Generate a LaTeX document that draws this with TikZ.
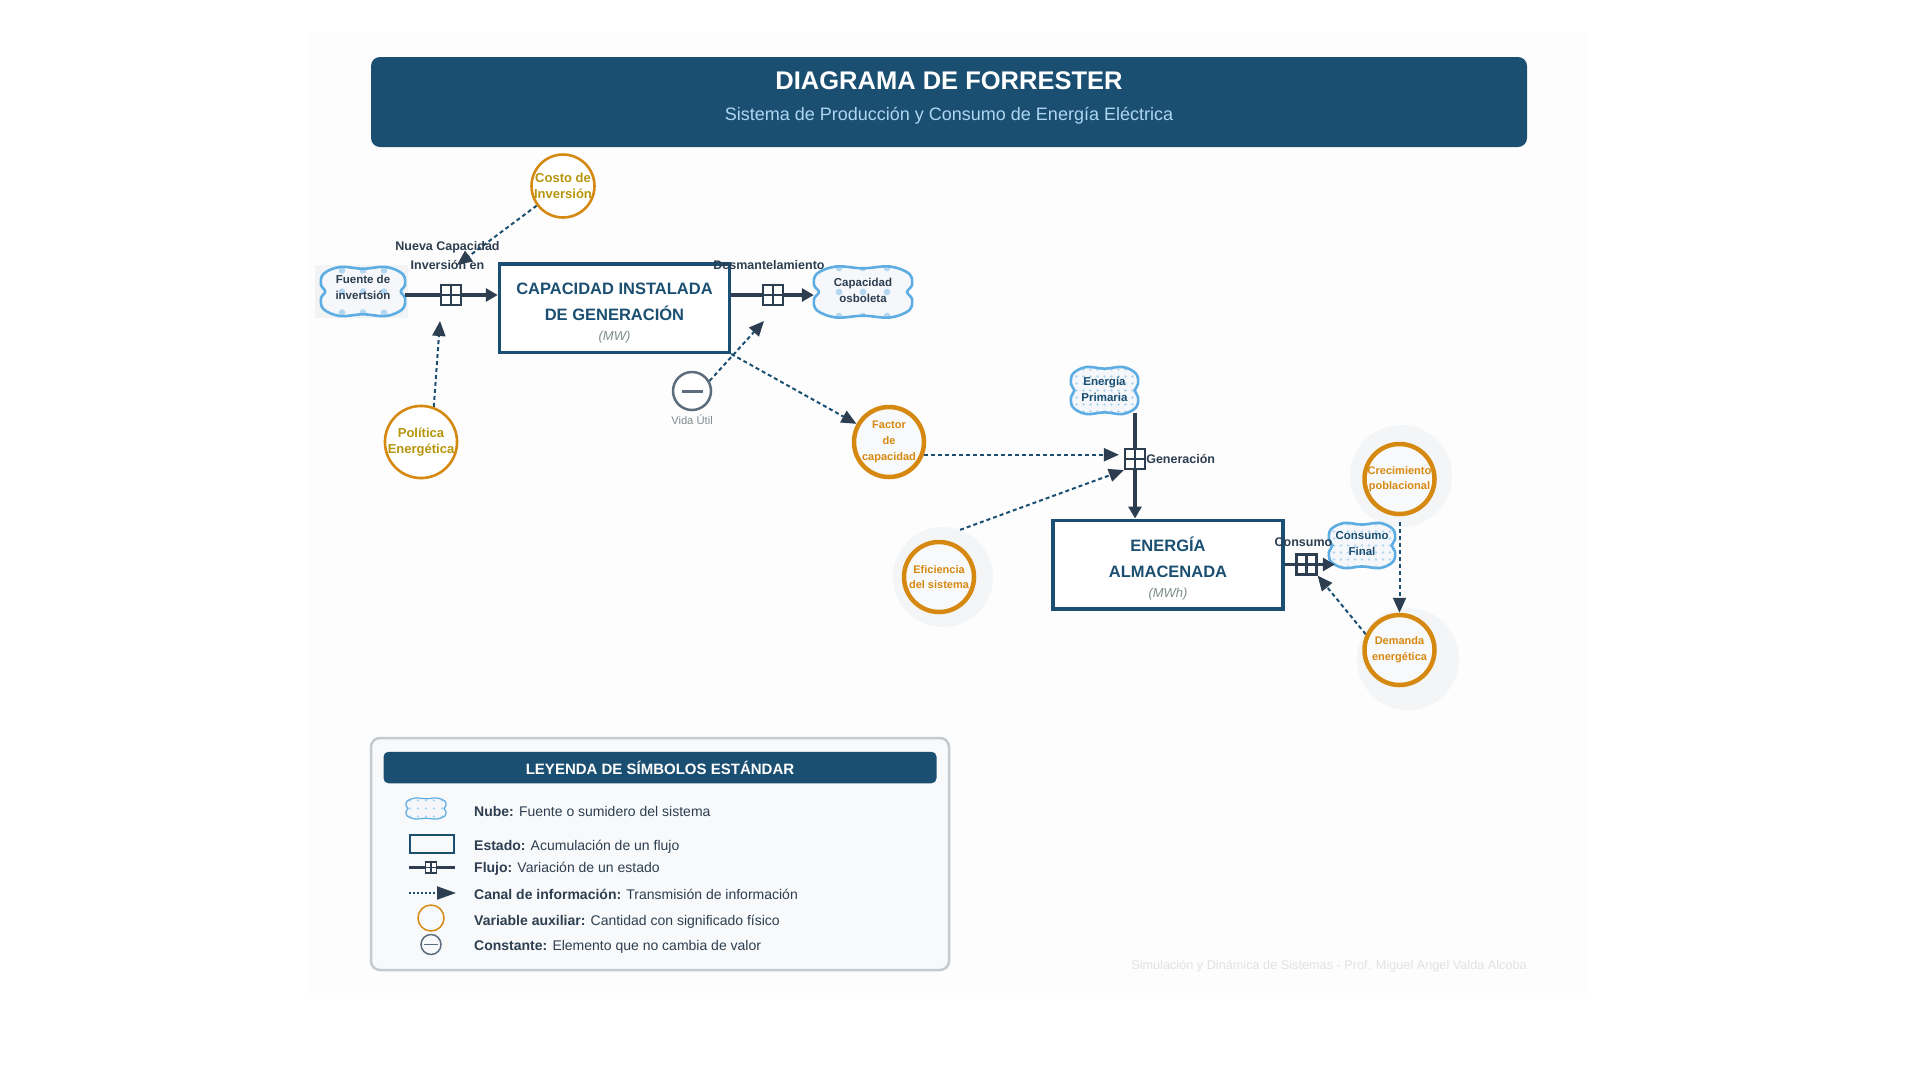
\documentclass[tikz,border=0pt]{standalone}
\usepackage{fontspec}
\setmainfont{Liberation Sans}
\usetikzlibrary{arrows.meta,calc}

\definecolor{principal}{HTML}{1B4F72}
\definecolor{oscuro}{HTML}{2C3E50}
\definecolor{naranja}{HTML}{D68910}
\definecolor{dorado}{HTML}{B7950B}
\definecolor{nubeazul}{HTML}{5DADE2}
\definecolor{punto}{HTML}{B3D7F0}
\definecolor{subtit}{HTML}{AED6F1}
\definecolor{grisc}{HTML}{5D6D7E}
\definecolor{textgris}{HTML}{7F8C8D}
\definecolor{fondotarj}{HTML}{FDFDFD}
\definecolor{halo}{HTML}{F3F5F7}
\definecolor{nubefondo}{HTML}{F5F7FA}
\definecolor{fuentefondo}{HTML}{F1F3F5}
\definecolor{leyfondo}{HTML}{F8F9FA}
\definecolor{leyborde}{HTML}{C5CAD0}
\definecolor{pie}{HTML}{E2E2E2}

\pgfdeclarelayer{fondo}
\pgfsetlayers{fondo,main}

\newcommand{\tam}[2]{\fontsize{#1}{#2}\selectfont}

% contorno de nube: semiancho, semialto
\newcommand{\nubepath}[2]{plot[smooth cycle, tension=0.6] coordinates {({-0.55*#1},{-#2}) (0,{-0.93*#2}) ({0.55*#1},{-#2}) ({0.94*#1},{-0.72*#2}) (#1,{-0.28*#2}) ({0.9*#1},0) (#1,{0.28*#2}) ({0.94*#1},{0.72*#2}) ({0.55*#1},#2) (0,{0.93*#2}) ({-0.55*#1},#2) ({-0.94*#1},{0.72*#2}) ({-#1},{0.28*#2}) ({-0.9*#1},0) ({-#1},{-0.28*#2}) ({-0.94*#1},{-0.72*#2})}}

% nube: posicion, semiancho, semialto, paso de puntos, radio de punto
\newcommand{\nube}[5]{%
  \begin{scope}[shift={#1}]
    \fill[nubefondo] \nubepath{#2}{#3};
    \begin{scope}
      \clip \nubepath{#2}{#3};
      \foreach \i in {-7,...,7}{\foreach \j in {-4,...,4}{\fill[punto] ({\i*#4},{\j*#4}) circle (#5pt);}}
    \end{scope}
    \draw[nubeborde] \nubepath{#2}{#3};
  \end{scope}}

\begin{document}
\begin{tikzpicture}[x=1pt, y=-1pt,
    nubeborde/.style={draw=nubeazul, line width=2.6pt},
    nubetexto/.style={align=center, font=\bfseries\tam{11.5}{16}, text=oscuro, inner sep=0pt},
    estado/.style={draw=principal, line width=3.5pt, fill=white, align=center, text=principal,
      font=\bfseries\tam{16.5}{26}, minimum width=230pt, minimum height=88.5pt},
    valvula/.style={draw=oscuro, line width=2.2pt, fill=white, minimum size=20pt, inner sep=0pt,
      path picture={\draw[oscuro] (path picture bounding box.north) -- (path picture bounding box.south)
        (path picture bounding box.west) -- (path picture bounding box.east);}},
    flujo/.style={draw=oscuro, line width=3.5pt, -{Triangle[length=12pt,width=13pt]}},
    info/.style={draw=principal, line width=2pt, dash pattern=on 4pt off 3pt,
      -{Triangle[length=15pt,width=13pt,color=oscuro]}},
    auxiliar/.style={circle, draw=naranja, line width=4.5pt, fill=leyfondo, minimum size=70pt,
      inner sep=0pt, align=center, text=naranja, font=\bfseries\tam{11}{15.7}},
    auxfina/.style={auxiliar, line width=2.6pt, fill=white, minimum size=62pt, text=dorado,
      font=\bfseries\tam{13}{16}},
    sombra/.style={circle, fill=halo, inner sep=0pt, minimum size=#1},
    constante/.style={circle, draw=grisc, line width=2.5pt, fill=white, minimum size=38pt,
      path picture={\draw[grisc, line width=3pt] ([xshift=-10.5pt]path picture bounding box.center)
        -- ([xshift=10.5pt]path picture bounding box.center);}},
    etiqueta/.style={font=\bfseries\tam{12.5}{19}, text=oscuro, align=center},
    leytexto/.style={anchor=base west, font=\tam{14}{17}, text=oscuro, inner sep=0pt}]

  \useasboundingbox (0,0) rectangle (1920,1080);

  \begin{pgfonlayer}{fondo}
    \fill[fondotarj] (307,33) rectangle (1590,993);
    \fill[principal, rounded corners=9pt] (371,57) rectangle (1527,147);

    \node[sombra=100pt] (efihalo) at (943,577) {};
    \node[sombra=102pt] (crechalo) at (1401,476) {};
    \node[sombra=102pt] (demhalo) at (1408,659) {};

    \fill[fuentefondo] (315,265) rectangle (408,318);
    \nube{(363,291.5)}{42}{24.5}{21}{3.3}
    \nube{(863,292)}{49}{25.5}{24}{3.3}
    \nube{(1104.5,390.5)}{33.5}{23.5}{7}{1.3}
    \nube{(1362,545.5)}{33}{22.5}{7}{1.3}
  \end{pgfonlayer}

  % cabecera
  \node[text=white, font=\bfseries\tam{25.5}{30}] (titulo) at (949,81) {DIAGRAMA DE FORRESTER};
  \node[text=subtit, font=\tam{18}{22}] (subtitulo) at (949,116)
    {Sistema de Producción y Consumo de Energía Eléctrica};

  % niveles
  \node[estado] (capacidad) at (614.5,308)
    {\rule{0pt}{22pt}CAPACIDAD INSTALADA\\DE GENERACIÓN\\[-6pt]{\tam{13}{16}\mdseries\itshape\color{textgris}(MW)}};
  \node[estado] (almacen) at (1168,564.5)
    {\rule{0pt}{22pt}ENERGÍA\\ALMACENADA\\[-6pt]{\tam{13}{16}\mdseries\itshape\color{textgris}(MWh)}};

  % nubes
  \node[nubetexto, minimum width=84pt] (fuente) at (363,287) {Fuente de\\invertsión};
  \node[nubetexto, minimum width=98pt] (osboleta) at (863,290) {Capacidad\\osboleta};
  \node[nubetexto, text=principal, minimum width=67pt, minimum height=47pt] (primaria) at (1104.5,389.5)
    {Energía\\Primaria};
  \node[nubetexto, text=principal, minimum width=66pt] (final) at (1362,543.5) {Consumo\\Final};

  % flujos
  \node[valvula, label={[etiqueta, label distance=11.2pt, xshift=-3.5pt]above:{Nueva Capacidad\\Inversión en}}] (v1) at (451,295) {};
  \node[valvula, label={[etiqueta, label distance=11.2pt, xshift=-4pt]above:Desmantelamiento}] (v2) at (773,295) {};
  \node[valvula, label={[etiqueta, inner sep=0pt]right:Generación}] (gen) at (1135,459) {};
  \node[valvula, label={[etiqueta, label distance=3.7pt, xshift=-3pt]above:Consumo}] (vc) at (1306.5,564.5) {};

  % auxiliares y constante
  \node[auxfina] (costo) at (563,186) {Costo de\\Inversión};
  \node[auxfina] (politica) at (421,442) {Política\\Energética};
  \node[constante, label={[font=\tam{11.2}{13}, text=textgris]below:Vida Útil}] (vida) at (692,391) {};
  \node[auxiliar] (factor) at (889,442) {Factor\\de\\capacidad};
  \node[auxiliar] (eficiencia) at (939,577) {Eficiencia\\del sistema};
  \node[auxiliar] (crec) at (1399.5,479) {Crecimiento\\poblacional};
  \node[auxiliar] (demanda) at (1399.5,650) {Demanda\\energética};

  \coordinate (nc) at (457,265);
  \coordinate (pe) at (440,321);
  \coordinate (vu) at (764,321);

  \begin{pgfonlayer}{fondo}
    \draw[flujo] (fuente.east |- v1) -- (capacidad.west |- v1);
    \draw[flujo] (capacidad.east |- v2) -- (osboleta.west |- v2);
    \draw[flujo] (gen |- primaria.south) -- (gen |- almacen.north);
    \draw[flujo, shorten >=-6pt] (almacen.east |- vc) -- (final.west |- vc);

    \draw[info] (costo) -- (nc);
    \draw[info] (politica.70) -- (pe);
    \draw[info] (vida.30) -- (vu);
    \draw[info] (capacidad.south east) -- (factor);
    \draw[info, shorten >=5pt] (factor.-20) -- (factor.-20 -| gen.west);
    \draw[info] (efihalo.70) -- (gen.south west);
    \draw[info, shorten <=6pt] (crec.south) -- (demanda.north);
    \draw[info] (demanda.155) -- (vc.south east);
  \end{pgfonlayer}

  % leyenda
  \draw[draw=leyborde, line width=2.5pt, fill=leyfondo, rounded corners=9pt] (371,738) rectangle (949,970);
  \node[fill=principal, rounded corners=5pt, minimum width=553pt, minimum height=31.5pt, text=white,
    font=\bfseries\tam{15}{18}] (leyenda) at (660,767.5) {LEYENDA DE SÍMBOLOS ESTÁNDAR};

  \begin{scope}[nubeborde/.append style={line width=1.2pt}]
    \nube{(426,808.5)}{20}{10.5}{8}{1.3}
  \end{scope}
  \draw[principal, line width=2.5pt] (410,835) rectangle (454,853);
  \draw[oscuro, line width=2.2pt] (409,867.5) -- (455,867.5);
  \node[valvula, minimum size=11pt, line width=1.3pt] (leyvalv) at (431,867.5) {};
  \draw[principal, line width=2pt, dash pattern=on 2pt off 2pt, -{Triangle[length=19pt,width=13pt,color=oscuro]}]
    (409,893) -- (456,893);
  \draw[naranja, line width=1.5pt] (431,918) circle (13pt);
  \draw[grisc, line width=1.5pt] (431,944.5) circle (10pt);
  \draw[grisc, line width=1.5pt] (424,944.5) -- (438,944.5);

  \node[leytexto] (l1) at (474,816) {\textbf{Nube:} Fuente o sumidero del sistema};
  \node[leytexto] (l2) at (474,850) {\textbf{Estado:} Acumulación de un flujo};
  \node[leytexto] (l3) at (474,872.5) {\textbf{Flujo:} Variación de un estado};
  \node[leytexto] (l4) at (474,899) {\textbf{Canal de información:} Transmisión de información};
  \node[leytexto] (l5) at (474,925) {\textbf{Variable auxiliar:} Cantidad con significado físico};
  \node[leytexto] (l6) at (474,950.5) {\textbf{Constante:} Elemento que no cambia de valor};

  \node[anchor=base east, text=pie, font=\tam{12.7}{15}, inner sep=0pt] (autor) at (1527,969)
    {Simulación y Dinámica de Sistemas - Prof. Miguel Angel Valda Alcoba};
\end{tikzpicture}
\end{document}
